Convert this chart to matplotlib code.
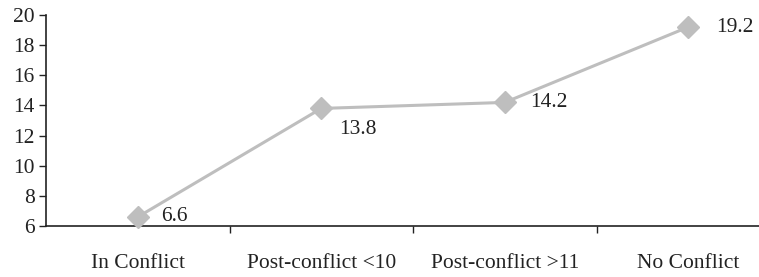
import matplotlib
matplotlib.use("Agg")
import matplotlib.pyplot as plt

categories = ["In Conflict", "Post-conflict <10", "Post-conflict >11", "No Conflict"]
values = [6.6, 13.8, 14.2, 19.2]
labels = ["6.6", "13.8", "14.2", "19.2"]
yticks = [6, 8, 10, 12, 14, 16, 18, 20]

plt.rcParams['font.family'] = ['Liberation Serif', 'DejaVu Serif']

W, H = 759, 277
fig = plt.figure(figsize=(W / 100, H / 100), dpi=100)
left, right, top, bottom = 46, 780, 15, 226
ax = fig.add_axes([left / W, 1 - bottom / H, (right - left) / W, (bottom - top) / H])

FS = 15.5
x = list(range(len(categories)))
ax.plot(x, values, color="#BEBEBE", lw=2.2, marker="D", markersize=11,
        markerfacecolor="#BEBEBE", markeredgecolor="#BEBEBE", zorder=3, clip_on=False)

offsets = [(17, 0), (13, -15), (18, 0), (20, 0)]
for xi, v, lab, (dx, dy) in zip(x, values, labels, offsets):
    ax.annotate(lab, (xi, v), xytext=(dx, dy), textcoords="offset points",
                ha="left", va="center", fontsize=FS, color="#222222")

ax.set_xlim(-0.5, 3.5)
ax.set_ylim(6, 20)
ax.set_yticks(yticks)
ax.set_xticks(x)
ax.set_xticklabels(categories)
ax.set_xticks([0.5, 1.5, 2.5], minor=True)
ax.tick_params(axis="x", which="major", length=0, pad=20, labelsize=FS, colors="#222222")
ax.tick_params(axis="x", which="minor", length=5, width=1, direction="out", color="#222222")
ax.tick_params(axis="y", length=5, width=1, direction="out", pad=3, labelsize=FS,
               colors="#222222")
for s in ["top", "right"]:
    ax.spines[s].set_visible(False)
for s in ["left", "bottom"]:
    ax.spines[s].set_color("#222222")
    ax.spines[s].set_linewidth(1.2)

fig.savefig("out.png", dpi=100)
